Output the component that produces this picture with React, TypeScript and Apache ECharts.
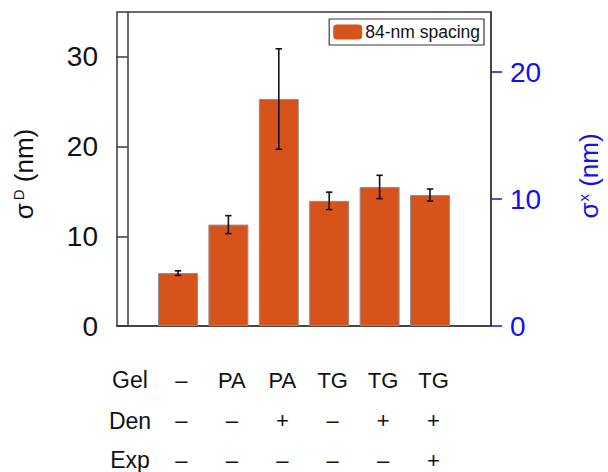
import React, { useEffect, useRef } from "react";
import * as echarts from "echarts";

const positions = [1, 2, 3, 4, 5, 6];
const gelRow = ["–", "PA", "PA", "TG", "TG", "TG"];
const denRow = ["–", "–", "+", "–", "+", "+"];
const expRow = ["–", "–", "–", "–", "–", "+"];
const rowNames = ["Gel", "Den", "Exp"];
const sigmaD = [5.9, 11.3, 25.3, 13.95, 15.5, 14.6];
const sigmaDErr = [0.25, 1.0, 5.6, 0.97, 1.3, 0.67];
const leftTicks = [0, 10, 20, 30];
const rightTicks = [0, 10, 20];
const seriesName = "84-nm spacing";

const FONT = "'Liberation Sans', Arial, Helvetica, sans-serif";

export default function App() {
  const ref = useRef<HTMLDivElement>(null);
  useEffect(() => {
    if (!ref.current) return;
    const chart = echarts.init(ref.current, null, { renderer: "svg" });
    const barData = positions.map((x, i) => [x, sigmaD[i]]);
    const errData = positions.map((x, i) => [x, sigmaD[i] - sigmaDErr[i], sigmaD[i] + sigmaDErr[i]]);
    const rowY = [380, 421, 460];
    chart.setOption({
      animation: false,
      grid: {
        left: 117, right: 117, top: 12, bottom: 146,
        outerBoundsMode: "none", containLabel: false,
        show: true, borderColor: "#3a3a3a", borderWidth: 1.5, backgroundColor: "transparent",
      },
      legend: {
        data: [seriesName],
        top: 19,
        right: 124,
        padding: [4, 4, 4, 4],
        itemWidth: 29,
        itemHeight: 15,
        itemGap: 3,
        borderColor: "#3a3a3a",
        borderWidth: 1.2,
        itemStyle: { borderWidth: 0 },
        textStyle: { fontFamily: FONT, fontSize: 17.5, color: "#111", padding: [0, 0, 0, -2] },
      },
      xAxis: {
        type: "value",
        min: -0.21,
        max: 7.21,
        splitLine: { show: false },
        axisLine: { show: true, lineStyle: { color: "#3a3a3a", width: 1.5 } },
        axisTick: { show: false },
        axisLabel: {
          show: true,
          customValues: positions,
          margin: 34,
          fontFamily: FONT,
          fontSize: 22,
          lineHeight: 40,
          color: "#111",
          padding: [0, 0, 0, 7],
          formatter: (v: number) => {
            const i = Math.round(v) - 1;
            return `${gelRow[i]}\n${denRow[i]}\n${expRow[i]}`;
          },
        },
      },
      yAxis: [
        {
          type: "value",
          min: 0,
          max: 35,
          position: "left",
          splitLine: { show: false },
          axisLine: { show: true, lineStyle: { color: "#3a3a3a", width: 1.5 } },
          axisTick: { show: true, customValues: leftTicks, length: 11, lineStyle: { color: "#3a3a3a", width: 1.5 } },
          axisLabel: { customValues: leftTicks, margin: 19, fontFamily: FONT, fontSize: 28, color: "#111" },
          name: "{s|σ}{p|D}{n| (nm)}",
          nameLocation: "middle",
          nameRotate: 90,
          nameGap: 80,
          nameTextStyle: {
            fontFamily: FONT,
            color: "#111",
            padding: [0, 10, 0, 0],
            rich: {
              s: { fontFamily: FONT, fontSize: 26, color: "#111" },
              p: { fontFamily: FONT, fontSize: 15, color: "#111", verticalAlign: "top", lineHeight: 20, padding: [0, 0, 0, 3] },
              n: { fontFamily: FONT, fontSize: 26, color: "#111" },
            },
          },
        },
        {
          type: "value",
          min: 0,
          max: 35 / Math.SQRT2,
          position: "right",
          splitLine: { show: false },
          axisLine: { show: true, lineStyle: { color: "#3a3a3a", width: 1.5 } },
          axisTick: { show: true, customValues: rightTicks, length: 11, lineStyle: { color: "#1010f0", width: 1.5 } },
          axisLabel: { customValues: rightTicks, margin: 19, fontFamily: FONT, fontSize: 28, color: "#1010f0" },
          name: "{s|σ}{p|x}{n| (nm)}",
          nameLocation: "middle",
          nameRotate: 90,
          nameGap: 85,
          nameTextStyle: {
            fontFamily: FONT,
            color: "#1010f0",
            padding: [0, 14, 0, 0],
            rich: {
              s: { fontFamily: FONT, fontSize: 26, color: "#1010f0" },
              p: { fontFamily: FONT, fontSize: 15, color: "#1010f0", verticalAlign: "top", lineHeight: 20, padding: [0, 0, 0, 1] },
              n: { fontFamily: FONT, fontSize: 26, color: "#1010f0" },
            },
          },
        },
      ],
      graphic: rowNames.map((t, i) => ({
        type: "text",
        x: 130,
        y: rowY[i],
        style: { text: t, fontFamily: FONT, fontSize: 23, fill: "#111", align: "center", verticalAlign: "middle" },
      })),
      series: [
        {
          name: seriesName,
          type: "bar",
          data: barData,
          barWidth: 40,
          itemStyle: { color: "#d6531b", borderColor: "#8f8f8f", borderWidth: 1 },
          z: 2,
        },
        {
          type: "custom",
          data: errData,
          encode: { x: 0, y: [1, 2] },
          z: 5,
          renderItem: (params: any, api: any) => {
            const x = api.value(0);
            const lo = api.coord([x, api.value(1)]);
            const hi = api.coord([x, api.value(2)]);
            const cw = 3.2;
            const st = { stroke: "#111", lineWidth: 1.6 };
            return {
              type: "group",
              children: [
                { type: "line", shape: { x1: lo[0], y1: lo[1], x2: hi[0], y2: hi[1] }, style: st },
                { type: "line", shape: { x1: lo[0] - cw, y1: lo[1], x2: lo[0] + cw, y2: lo[1] }, style: st },
                { type: "line", shape: { x1: hi[0] - cw, y1: hi[1], x2: hi[0] + cw, y2: hi[1] }, style: st },
              ],
            };
          },
        },
      ],
    });
    return () => chart.dispose();
  }, []);
  return <div ref={ref} style={{ width: 608, height: 472, position: "absolute", left: 0, top: 0 }} />;
}
